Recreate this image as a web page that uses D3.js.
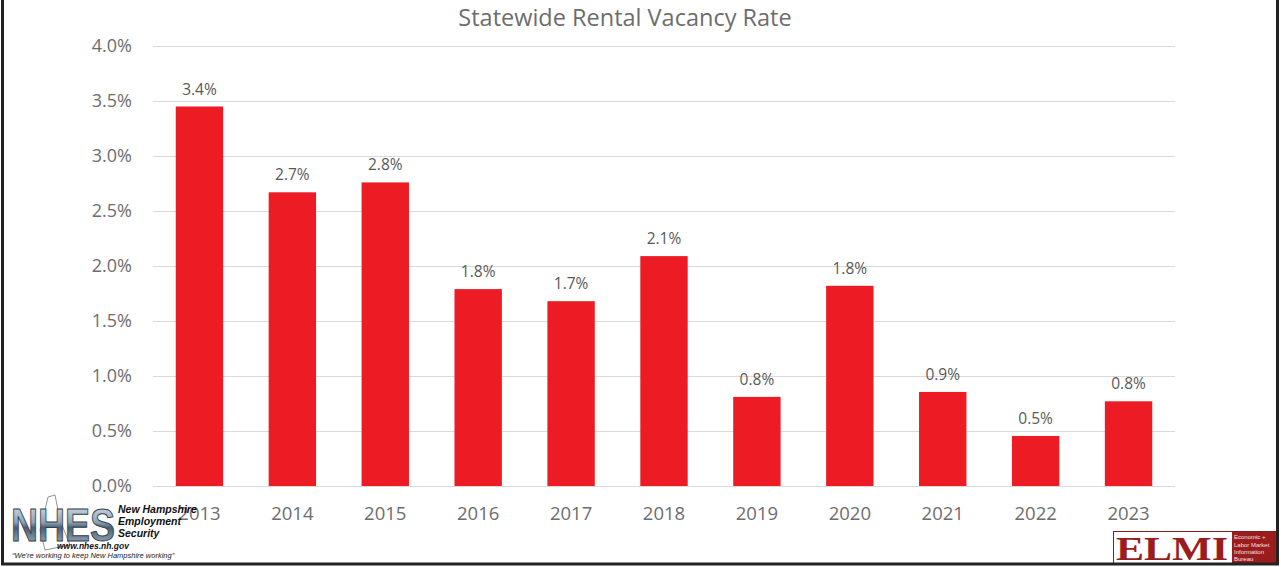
<!DOCTYPE html>
<html><head><meta charset="utf-8">
<script src="https://cdn.jsdelivr.net/npm/d3@7"></script>
<style>body{margin:0;background:#fff;overflow:hidden}svg{display:block}</style>
</head><body>
<script>
const years = ["2013","2014","2015","2016","2017","2018","2019","2020","2021","2022","2023"];
const rates = [3.45, 2.67, 2.76, 1.79, 1.68, 2.09, 0.81, 1.82, 0.855, 0.455, 0.77];
const labels = ["3.4%","2.7%","2.8%","1.8%","1.7%","2.1%","0.8%","1.8%","0.9%","0.5%","0.8%"];
const yTicks = [0,0.5,1,1.5,2,2.5,3,3.5,4];
const title = "Statewide Rental Vacancy Rate";

const W=1281,H=567;
const svg=d3.select("body").append("svg").attr("width",W).attr("height",H);
svg.append("rect").attr("width",W).attr("height",H).attr("fill","#fff");

const x=d3.scaleBand().domain(years).range([153,1175]).paddingInner(0.49).paddingOuter(0.245);
const y=d3.scaleLinear().domain([0,4]).range([486,46]);
const font="'Open Sans', sans-serif";

// gridlines
svg.append("g").selectAll("line").data(yTicks).join("line")
  .attr("x1",153).attr("x2",1175).attr("y1",d=>Math.round(y(d))+0.5).attr("y2",d=>Math.round(y(d))+0.5)
  .attr("stroke","#d9d9d9").attr("stroke-width",1);

// y axis
const ya=svg.append("g").attr("transform","translate(140,0)")
  .call(d3.axisLeft(y).tickValues(yTicks).tickFormat(d=>d.toFixed(1)+"%").tickSize(0).tickPadding(8));
ya.select(".domain").remove();
ya.selectAll("text").attr("font-family",font).attr("font-size",18).attr("fill","#6d6d6d");

// bars
svg.append("g").selectAll("rect").data(years).join("rect")
  .attr("x",d=>x(d)).attr("width",x.bandwidth())
  .attr("y",(d,i)=>y(rates[i])).attr("height",(d,i)=>y(0)-y(rates[i]))
  .attr("fill","#ed1c24");

// data labels
svg.append("g").selectAll("text").data(years).join("text")
  .attr("x",d=>x(d)+x.bandwidth()/2).attr("y",(d,i)=>y(rates[i])-12)
  .attr("text-anchor","middle").attr("font-family",font).attr("font-size",15.5).attr("fill","#595959")
  .text((d,i)=>labels[i]);

// x axis
const xa=svg.append("g").attr("transform","translate(0,486)")
  .call(d3.axisBottom(x).tickSize(0).tickPadding(21));
xa.select(".domain").remove();
xa.selectAll("text").attr("font-family",font).attr("font-size",18.5).attr("fill","#6d6d6d");

// title
svg.append("text").attr("x",625).attr("y",25.5).attr("text-anchor","middle")
  .attr("font-family",font).attr("font-size",23.5).attr("fill","#6d6d6d").text(title);

// NHES logo (approximation)
const lg=svg.append("g");
const grad=svg.append("defs").append("linearGradient").attr("id","metal").attr("x1",0).attr("y1",0).attr("x2",0).attr("y2",1);
grad.append("stop").attr("offset","0").attr("stop-color","#e8eef3");
grad.append("stop").attr("offset","0.45").attr("stop-color","#8fa3b5");
grad.append("stop").attr("offset","0.55").attr("stop-color","#4a5f72");
grad.append("stop").attr("offset","1").attr("stop-color","#b8c6d2");
lg.append("path").attr("d","M48,497 L55,495 L60,520 L70,545 L45,550 L40,530 L45,510 Z")
  .attr("fill","none").attr("stroke","#777").attr("stroke-width",0.8);
const lf="'Liberation Sans', Arial, sans-serif";
lg.append("text").attr("x",11).attr("y",541).attr("font-family",lf)
  .attr("font-weight","bold").attr("font-size",46).attr("textLength",104).attr("lengthAdjust","spacingAndGlyphs")
  .attr("fill","url(#metal)").attr("stroke","#2f3f4f").attr("stroke-width",1).text("NHES");
[["New Hampshire",513],["Employment",525],["Security",537]].forEach(([t,yy])=>{
  lg.append("text").attr("x",118).attr("y",yy).attr("font-family",lf).attr("font-weight","bold")
    .attr("font-style","italic").attr("font-size",10.5).attr("fill","#111").text(t);
});
lg.append("text").attr("x",57).attr("y",549).attr("font-family",lf).attr("font-weight","bold")
  .attr("font-style","italic").attr("font-size",8.5).attr("fill","#111").text("www.nhes.nh.gov");
lg.append("text").attr("x",12).attr("y",558).attr("font-family",lf)
  .attr("font-style","italic").attr("font-size",7.5).attr("fill","#222").text("\u201cWe're working to keep New Hampshire working\u201d");

// ELMI logo (approximation)
const el=svg.append("g");
el.append("rect").attr("x",1113.5).attr("y",531.5).attr("width",163).attr("height",32).attr("fill","#fff").attr("stroke","#8b1a1a").attr("stroke-width",1);
el.append("text").attr("x",1116).attr("y",560).attr("font-family","'Liberation Serif', 'Times New Roman', serif")
  .attr("font-weight","bold").attr("font-size",34).attr("textLength",112).attr("lengthAdjust","spacingAndGlyphs")
  .attr("fill","#9b1c1c").text("ELMI");
el.append("rect").attr("x",1232).attr("y",532).attr("width",44).attr("height",31).attr("fill","#9b1c1c");
[["Economic +",539],["Labor Market",546.5],["Information",554],["Bureau",561]].forEach(([t,yy])=>{
  el.append("text").attr("x",1234).attr("y",yy).attr("font-family",lf).attr("font-size",6)
    .attr("fill","#f3e0e0").text(t);
});

// frame
svg.append("path").attr("d","M2.5,0 L2.5,564 L1277.5,564 L1277.5,0").attr("fill","none").attr("stroke","#222").attr("stroke-width",3);
</script>
</body></html>
